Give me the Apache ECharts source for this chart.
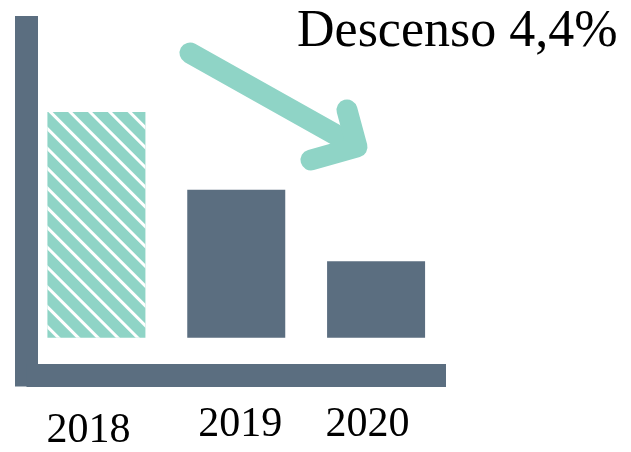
<!DOCTYPE html>
<html>
<head>
<meta charset="utf-8">
<script src="https://cdn.jsdelivr.net/npm/echarts@6/dist/echarts.min.js"></script>
<style>html,body{margin:0;padding:0;background:#fff;}#c{width:631px;height:452px;}</style>
</head>
<body>
<div id="c"></div>
<script>
const categories = ['2018', '2019', '2020'];
const values = [72.8, 47.7, 24.7];
const titleText = 'Descenso 4,4%';

const slate = '#5b6e80';
const teal = '#8fd4c6';
const labelPad = {
  '2018': [6, 16, 0, 0],
  '2019': [0, 0, 0, 8],
  '2020': [0, 17, 0, 0]
};

const chart = echarts.init(document.getElementById('c'), null, {renderer: 'canvas'});
chart.setOption({
  backgroundColor: '#ffffff',
  animation: false,
  title: {
    text: titleText,
    left: 297,
    top: 6,
    padding: 0,
    textStyle: {fontFamily: 'Liberation Serif', fontSize: 52, fontWeight: 'normal', color: '#000'}
  },
  grid: {left: 26.5, right: 185, top: 27.5, bottom: 71, containLabel: false},
  xAxis: {
    type: 'category',
    data: categories,
    axisTick: {show: false},
    axisLine: {onZero: false, lineStyle: {color: slate, width: 23, cap: 'butt'}},
    axisLabel: {
      margin: 29,
      formatter: function (v) { return '{y' + v + '|' + v + '}'; },
      rich: Object.fromEntries(categories.map(c => ['y' + c, {
        fontFamily: 'Liberation Serif', fontSize: 42, color: '#000', padding: labelPad[c]
      }]))
    }
  },
  yAxis: {
    type: 'value',
    min: -12,
    max: 100,
    axisLine: {show: true, lineStyle: {color: slate, width: 23, cap: 'square'}},
    axisTick: {show: false},
    axisLabel: {show: false},
    splitLine: {show: false}
  },
  series: [{
    type: 'bar',
    barWidth: 98,
    data: values.map((v, i) => i === 0 ? {
      value: v,
      itemStyle: {
        color: teal,
        decal: {
          symbol: 'rect',
          symbolSize: 1,
          color: '#ffffff',
          dashArrayX: [1, 0],
          dashArrayY: [2.5, 10.5],
          rotation: Math.PI / 4
        }
      }
    } : {value: v, itemStyle: {color: slate}})
  }],
  graphic: [
    {type: 'polyline', shape: {points: [[190, 53], [354, 145]]},
     style: {stroke: teal, lineWidth: 21, lineCap: 'round', lineJoin: 'round', fill: null}},
    {type: 'polyline', shape: {points: [[347, 110], [357, 147], [311, 160]]},
     style: {stroke: teal, lineWidth: 21, lineCap: 'round', lineJoin: 'round', fill: null}}
  ]
});
</script>
</body>
</html>
